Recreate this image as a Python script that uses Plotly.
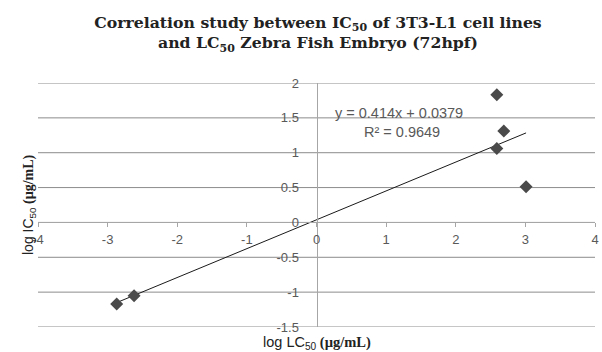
import plotly.graph_objects as go

# Data
log_lc50 = [2.59, 2.69, 2.59, 3.01, -2.87, -2.62]
log_ic50 = [1.83, 1.31, 1.06, 0.51, -1.17, -1.05]
slope = 0.414
intercept = 0.0379
r_squared = 0.9649
x_ticks = [-4, -3, -2, -1, 0, 1, 2, 3, 4]
y_ticks = [-1.5, -1, -0.5, 0, 0.5, 1, 1.5, 2]

x_range = [-4, 4]
y_range = [-1.5, 2]

xmin, xmax = min(log_lc50), max(log_lc50)
trend_x = [xmin, xmax]
trend_y = [slope * v + intercept for v in trend_x]

TXT = "#595959"
L, R, T, B = 38, 7, 83, 25
W, H = 602, 352
plot_w = W - L - R
plot_h = H - T - B


def px(xp):
    return (xp - L) / plot_w


def py(yp):
    return (H - B - yp) / plot_h


fig = go.Figure()
fig.add_trace(go.Scatter(x=trend_x, y=trend_y, mode="lines",
                         line=dict(color="#1a1a1a", width=1), hoverinfo="skip"))
fig.add_trace(go.Scatter(x=log_lc50, y=log_ic50, mode="markers",
                         marker=dict(symbol="diamond", size=10, color="#4a4a4a")))

# horizontal gridlines drawn as shapes at the y tick values (full width)
for v in y_ticks:
    fig.add_shape(type="line", xref="paper", yref="y", x0=0, x1=1, y0=v, y1=v,
                  line=dict(color="#8c8c8c", width=1), layer="below")

y_pos = (0 - y_range[0]) / (y_range[1] - y_range[0])
x_pos = (0 - x_range[0]) / (x_range[1] - x_range[0])

SANS = "font-family:'Liberation Sans';font-weight:normal;"
fig.update_layout(
    width=W, height=H,
    margin=dict(l=L, r=R, t=T, b=B, autoexpand=False),
    paper_bgcolor="white", plot_bgcolor="white",
    showlegend=False,
    title=dict(
        text="Correlation study between IC<sub>50</sub> of 3T3-L1 cell lines<br>and LC<sub>50</sub> Zebra Fish Embryo (72hpf)",
        x=318 / W, xanchor="center", y=1 - 28 / H, yanchor="middle",
        font=dict(family="DejaVu Serif", size=15.7, color="#222222", weight="bold"),
    ),
    xaxis=dict(
        range=x_range, tickvals=x_ticks, ticktext=[str(v) for v in x_ticks],
        showgrid=False, zeroline=False, automargin=False,
        showline=True, linecolor="#a6a6a6", linewidth=1,
        ticks="outside", ticklen=4, tickcolor="#a6a6a6",
        anchor="free", position=y_pos,
        tickfont=dict(family="Liberation Sans", size=13, color=TXT),
        ticklabelstandoff=1, ticklabeloverflow="allow",
    ),
    yaxis=dict(
        range=y_range, tickvals=y_ticks,
        ticktext=[("%g" % v) for v in y_ticks],
        showgrid=False, zeroline=False, automargin=False,
        showline=True, linecolor="#a6a6a6", linewidth=1,
        ticks="", anchor="free", position=x_pos,
        tickfont=dict(family="Liberation Sans", size=13, color=TXT),
        ticklabelstandoff=15,
    ),
    annotations=[
        dict(text="y = %.3fx + %.4f" % (slope, intercept), x=px(333), y=py(113),
             xref="paper", yref="paper", showarrow=False,
             font=dict(family="Liberation Sans", size=14.5, color=TXT),
             xanchor="left", yanchor="middle"),
        dict(text="R² = %.4f" % r_squared, x=px(362), y=py(132),
             xref="paper", yref="paper", showarrow=False,
             font=dict(family="Liberation Sans", size=14.5, color=TXT),
             xanchor="left", yanchor="middle"),
        dict(text="<span style=\"%s\">log IC<sub>50</sub></span> <b>(µg/mL)</b>" % SANS,
             x=px(29), y=py(205),
             xref="paper", yref="paper", showarrow=False, textangle=-90,
             font=dict(family="Liberation Serif", size=14, color="#222222"),
             xanchor="center", yanchor="middle"),
        dict(text="<span style=\"%s\">log LC<sub>50</sub></span> <b>(µg/mL)</b>" % SANS,
             x=px(317), y=py(343),
             xref="paper", yref="paper", showarrow=False,
             font=dict(family="Liberation Serif", size=14.5, color="#222222"),
             xanchor="center", yanchor="middle"),
    ],
)

fig.write_html(
    "out.html",
    config={"displayModeBar": False},
    post_script="document.body.style.margin='0';document.body.style.padding='0';document.body.style.overflow='hidden';",
)
